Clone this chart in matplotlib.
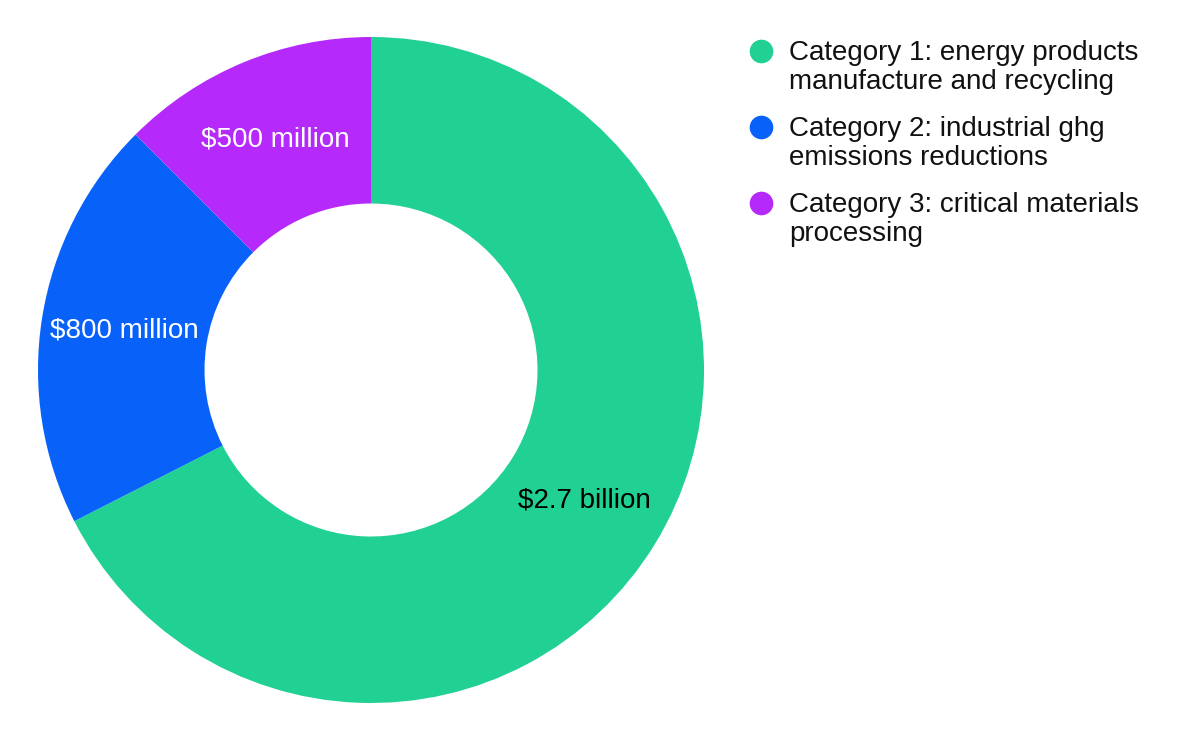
import matplotlib
matplotlib.use("Agg")
import matplotlib.pyplot as plt
from matplotlib.lines import Line2D
from matplotlib.legend_handler import HandlerLine2D

plt.rcParams["font.family"] = ["Liberation Sans", "DejaVu Sans"]

# values in billions of dollars
categories = [
    "Category 1: energy products\nmanufacture and recycling",
    "Category 2: industrial ghg\nemissions reductions",
    "Category 3: critical materials\nprocessing",
]
values = [2.7, 0.8, 0.5]
value_labels = ["$2.7 billion", "$800 million", "$500 million"]
colors = ["#21D093", "#0862FA", "#B52AFA"]
label_colors = ["black", "white", "white"]


class FirstLineMarker(HandlerLine2D):
    # put the dot next to the first line of a two-line label
    def create_artists(self, legend, orig_handle, xdescent, ydescent,
                       width, height, fontsize, trans):
        artists = super().create_artists(legend, orig_handle, xdescent, ydescent,
                                         width, height, fontsize, trans)
        for a in artists:
            x, y = a.get_data()
            a.set_data(x, [v + 0.6 * fontsize for v in y])
        return artists


fig = plt.figure(figsize=(12, 7.42), dpi=100)
ax = fig.add_axes([38 / 1200, 39 / 742, 666 / 1200, 666 / 742])

wedges, texts = ax.pie(
    values,
    colors=colors,
    labels=value_labels,
    labeldistance=0.75,
    startangle=90,
    counterclock=False,
    radius=1,
    wedgeprops={"width": 0.5, "linewidth": 0},
)
for t, c in zip(texts, label_colors):
    t.set_color(c)
    t.set_fontsize(20)
    t.set_ha("center")
    t.set_va("center")

ax.set_xlim(-1, 1)
ax.set_ylim(-1, 1)
ax.set_aspect("equal")
ax.axis("off")

handles = [
    Line2D([], [], marker="o", linestyle="", markersize=16,
           markerfacecolor=c, markeredgecolor=c)
    for c in colors
]
leg = fig.legend(
    handles, categories,
    loc="upper left",
    bbox_to_anchor=(750 / 1200, 1 - 40 / 742),
    frameon=False,
    fontsize=20,
    handletextpad=0.6,
    handlelength=0.8,
    labelspacing=0.75,
    borderaxespad=0,
    borderpad=0,
    handler_map={Line2D: FirstLineMarker()},
)
for txt in leg.get_texts():
    txt.set_linespacing(1.15)
    txt.set_color("#111111")

fig.savefig("out.png", dpi=100)
